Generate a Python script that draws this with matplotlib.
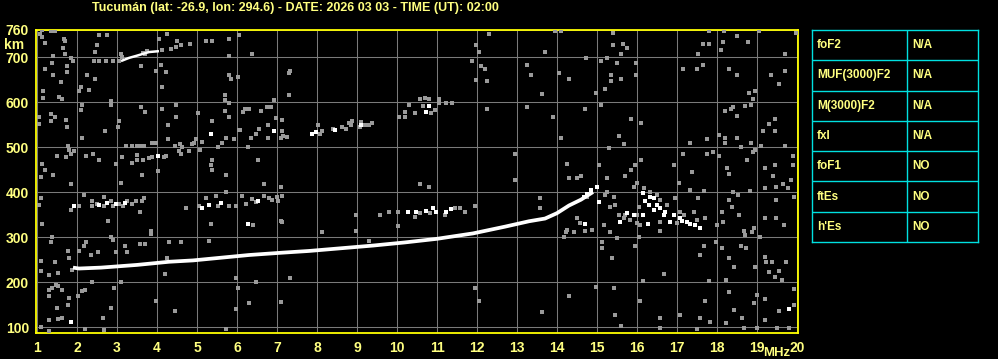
import numpy as np
import matplotlib

matplotlib.use("Agg")
import matplotlib.pyplot as plt

# ionogram: Tucuman, 2026-03-03 02:00 UT
TITLE = "Tucumán (lat: -26.9, lon: 294.6) - DATE: 2026 03 03 - TIME (UT): 02:00"

freq_ticks = list(range(1, 21))
height_ticks = [100, 200, 300, 400, 500, 600, 700, 760]

# main F trace (h'F vs frequency)
trace_f = [1.9, 2.05, 2.6, 3.5, 4.3, 4.9, 5.6, 6.3, 7.1, 7.8, 8.6, 9.4, 10.2,
           11.0, 11.9, 12.7, 13.3, 13.7, 14.0, 14.3, 14.6, 14.9]
trace_h = [232, 230, 232, 238, 245, 248, 254, 260, 265, 269, 275, 281, 288,
           296, 308, 323, 335, 341, 353, 370, 383, 400]

# faint multi-hop trace near 700 km
hop_f = [3.1, 3.3, 3.5, 3.8, 4.05]
hop_h = [691, 698, 703, 711, 713]

# bright echoes
white_pts = [
    (4.03, 480), (5.34, 530), (6.93, 536), (7.88, 528), (7.98, 533), (8.44, 538),
    (9.09, 548), (10.79, 592), (10.73, 577), (1.93, 370), (2.55, 371), (2.74, 375),
    (2.97, 373), (3.19, 376), (5.13, 365), (5.30, 371), (5.59, 375), (6.28, 328),
    (6.53, 379), (1.84, 112), (10.28, 356), (10.48, 356), (10.73, 358), (10.90, 364),
    (10.98, 356), (11.23, 356), (11.36, 362), (14.67, 390), (15.04, 377), (14.69, 328),
    (14.75, 395), (14.85, 405), (15.0, 412),
    (16.14, 397), (16.21, 379), (16.29, 371), (16.42, 360), (16.58, 364), (16.67, 349),
    (16.42, 386), (16.33, 390), (16.16, 350), (16.83, 334), (16.92, 349), (17.08, 342),
    (17.13, 336), (17.25, 334), (17.33, 328), (17.58, 319), (17.46, 327), (15.75, 353),
    (15.58, 334), (16.27, 328), (15.92, 349), (16.5, 372), (16.7, 356), (19.79, 140),
]

# scattered noise
gray_pts = [
    (1.13, 759), (1.34, 758), (1.44, 758), (1.08, 752), (1.13, 744), (1.19, 732),
    (1.68, 741), (1.69, 735), (2.74, 750), (2.54, 748), (2.49, 726), (2.45, 712),
    (1.65, 720), (1.70, 707), (1.39, 703), (1.84, 697), (1.89, 692), (2.43, 691),
    (2.55, 691), (2.73, 691), (2.89, 691), (1.38, 687), (1.74, 679), (1.74, 666),
    (1.19, 673), (1.39, 659), (1.59, 645), (2.24, 660), (2.44, 651), (2.09, 634),
    (2.05, 624), (2.29, 626), (1.14, 624), (1.15, 609), (1.55, 611), (1.63, 606),
    (2.84, 602), (2.85, 593), (2.13, 593), (2.09, 582), (1.04, 566), (1.34, 573),
    (1.34, 558), (1.44, 566), (1.73, 560), (1.05, 552), (1.74, 544), (2.13, 521),
    (2.69, 535), (3.05, 558), (3.03, 544), (3.61, 589), (3.69, 578), (4.13, 584),
    (4.48, 593), (4.48, 566), (4.28, 548), (4.28, 517), (5.03, 575), (5.38, 557),
    (4.98, 517), (5.13, 512), (5.70, 580), (5.79, 566), (5.73, 521), (5.93, 517),
    (6.05, 537), (6.08, 537), (6.19, 584), (6.30, 584), (6.14, 577), (6.59, 579),
    (6.74, 588), (6.84, 588), (7.13, 560), (6.98, 565), (6.78, 548), (6.54, 539),
    (6.47, 530), (6.34, 521), (6.78, 521), (7.13, 535), (7.14, 525), (7.24, 522),
    (7.09, 521), (6.93, 605), (7.29, 615), (7.29, 665), (6.05, 748), (5.79, 739),
    (6.38, 707), (5.80, 703), (5.80, 660), (5.84, 651), (6.03, 656), (5.69, 615),
    (5.80, 597), (5.70, 605), (5.23, 736), (5.38, 736), (4.82, 729), (4.51, 736),
    (4.59, 726), (4.34, 718), (4.24, 752), (4.47, 722), (4.04, 739), (4.13, 716),
    (4.09, 682), (4.22, 666), (3.98, 670), (4.13, 633), (3.59, 679), (3.69, 707),
    (3.09, 707), (3.13, 700), (3.05, 691), (3.65, 708), (3.75, 713),
    (1.78, 502), (1.80, 494), (1.84, 485), (1.93, 491), (1.49, 481), (1.73, 477),
    (2.23, 481), (2.40, 485), (2.54, 472), (2.98, 463), (3.13, 477), (3.22, 502),
    (3.38, 502), (3.49, 502), (3.59, 502), (3.68, 502), (3.88, 508), (3.98, 508),
    (3.38, 465), (3.51, 483), (3.49, 472), (3.65, 472), (3.80, 476), (3.88, 477),
    (4.18, 478), (4.23, 481), (4.44, 502), (4.57, 506), (4.63, 500), (4.88, 506),
    (4.93, 508), (4.80, 491), (4.55, 491), (4.59, 485), (5.08, 493), (5.38, 472),
    (5.34, 459), (5.38, 450), (5.73, 437), (5.53, 500), (5.63, 508), (6.28, 500),
    (6.53, 472), (3.63, 437), (4.03, 446), (1.13, 463), (1.19, 450), (1.09, 433),
    (1.39, 437),
    (7.32, 669), (12.29, 752), (11.98, 726), (12.04, 712), (11.88, 691), (12.09, 679),
    (12.19, 673), (11.98, 649), (12.24, 647), (13.24, 683), (13.34, 661), (13.63, 618),
    (13.24, 589), (12.24, 584), (12.94, 485), (12.94, 427), (8.03, 550), (8.13, 535),
    (8.07, 530), (8.40, 539), (8.63, 544), (8.73, 541), (8.80, 553), (8.88, 557),
    (8.84, 548), (9.09, 556), (9.08, 544), (9.19, 548), (9.29, 550), (9.38, 553),
    (10.04, 566), (10.19, 566), (10.19, 578), (10.29, 593), (10.44, 575), (10.58, 606),
    (10.69, 609), (10.79, 606), (10.65, 591), (10.84, 575), (10.94, 582), (11.04, 606),
    (11.04, 597), (11.23, 597), (11.38, 597),
    (13.94, 757), (14.09, 757), (13.69, 712), (15.39, 754), (15.39, 726), (15.64, 729),
    (15.74, 720), (15.59, 707), (14.73, 698), (15.09, 691), (15.24, 698), (15.49, 687),
    (14.04, 665), (14.29, 651), (15.34, 660), (15.34, 647), (15.59, 651), (15.19, 629),
    (14.98, 620), (15.98, 687), (15.98, 660), (15.09, 593), (14.69, 584), (13.89, 566),
    (14.09, 521), (15.84, 562), (16.09, 553), (15.54, 524), (15.67, 506), (15.29, 497),
    (14.24, 463), (14.29, 431), (14.49, 432), (14.59, 435), (15.04, 459), (15.24, 431),
    (15.69, 435), (15.84, 450), (15.94, 459), (16.09, 472), (16.93, 459), (17.14, 485),
    (17.38, 445), (17.74, 485), (17.89, 490), (18.04, 481), (18.24, 454), (18.29, 441),
    (18.59, 499), (18.74, 471), (18.89, 490), (18.94, 494), (19.10, 503), (19.69, 503),
    (19.89, 481), (19.89, 459), (19.44, 461), (19.19, 454), (19.39, 436), (19.84, 427),
    (17.74, 517), (17.33, 508), (18.04, 526), (18.19, 521), (18.19, 508), (18.49, 521),
    (18.84, 508), (19.14, 535), (19.29, 551), (19.44, 535), (19.44, 562), (18.19, 579),
    (18.34, 584), (18.39, 588), (18.49, 568), (18.69, 591), (18.84, 593), (18.79, 620),
    (18.89, 606), (18.94, 624), (18.29, 673), (18.49, 660), (19.34, 660), (19.54, 640),
    (19.69, 669), (19.69, 707), (17.14, 673), (17.49, 673), (17.64, 682), (17.52, 707),
    (17.64, 729), (17.79, 729), (18.09, 716), (18.14, 734), (18.17, 758), (17.79, 758),
    (18.49, 747), (18.77, 734), (19.04, 758), (19.98, 754),
    (2.05, 368), (2.38, 380), (2.38, 370), (2.51, 373), (2.68, 370), (2.84, 379),
    (2.89, 370), (3.05, 373), (3.15, 370), (3.26, 380), (3.38, 373), (3.47, 380),
    (3.62, 379), (3.57, 356), (3.68, 386), (4.72, 365), (5.05, 370), (5.22, 387),
    (5.47, 392), (5.53, 370), (5.73, 401), (5.80, 370), (5.97, 370), (6.12, 392),
    (6.23, 373), (6.37, 385), (6.47, 377), (6.68, 392), (6.80, 386), (6.88, 382),
    (7.03, 380), (7.13, 392), (7.13, 334), (6.40, 327), (1.05, 371), (1.09, 386),
    (1.84, 359), (1.84, 417), (2.18, 393), (2.68, 390), (3.09, 419), (2.78, 336),
    (3.85, 313), (3.85, 306), (2.86, 299), (2.90, 293), (1.13, 328), (1.38, 301),
    (1.34, 288), (2.23, 290), (2.18, 279), (1.78, 268), (2.05, 269), (2.53, 266),
    (2.34, 260), (2.97, 266), (3.20, 279), (3.26, 266), (3.57, 284), (3.69, 284),
    (4.30, 288), (4.59, 288), (5.30, 291), (4.24, 254), (4.20, 217), (5.34, 328),
    (6.68, 417), (7.09, 412), (7.09, 336), (7.01, 390), (1.09, 225), (1.30, 216),
    (1.53, 219), (1.09, 247), (1.44, 245), (1.80, 253), (1.88, 227), (1.47, 194),
    (1.30, 183), (1.37, 186), (1.53, 192), (1.62, 183), (1.30, 168), (1.80, 164),
    (2.03, 168), (2.13, 179), (2.20, 182), (2.38, 199), (1.51, 143), (1.78, 148),
    (1.30, 116), (1.53, 118), (1.63, 121), (1.09, 99), (1.30, 91), (2.20, 95),
    (2.68, 94), (2.64, 121), (2.84, 143), (2.93, 186), (3.09, 201), (3.98, 158),
    (4.44, 136), (6.03, 186), (5.97, 208), (6.30, 153), (5.97, 140), (5.73, 96),
    (6.48, 199), (7.09, 155),
    (9.79, 356), (10.03, 355), (10.44, 345), (10.58, 353), (10.82, 353), (11.19, 350),
    (11.44, 365), (11.57, 364), (11.69, 356), (11.94, 368), (9.58, 350), (8.98, 350),
    (8.13, 312), (8.98, 313), (9.29, 292), (10.03, 325), (10.58, 417), (10.79, 412),
    (13.58, 386), (13.58, 364), (7.32, 208), (11.94, 186), (12.04, 158), (13.63, 134),
    (15.46, 371), (15.71, 349), (15.83, 338), (16.00, 350), (16.04, 367), (16.17, 408),
    (16.32, 401), (16.50, 393), (16.58, 382), (16.75, 371), (16.96, 386), (17.08, 356),
    (17.17, 349), (17.42, 356), (17.50, 338), (17.71, 343), (17.00, 331), (16.58, 334),
    (16.08, 327), (16.00, 331), (15.67, 342), (15.54, 349), (15.33, 367), (15.21, 393),
    (15.25, 401), (14.75, 390), (14.50, 342), (14.25, 316), (14.17, 301), (14.71, 313),
    (14.57, 331), (15.33, 312), (15.50, 297), (15.13, 290), (15.13, 275), (16.04, 299),
    (16.58, 313), (15.96, 281), (15.38, 253), (14.98, 188), (14.29, 168), (15.43, 186),
    (16.08, 157), (15.46, 127), (15.60, 103), (16.58, 120), (16.58, 97), (17.08, 126),
    (17.58, 120), (17.69, 158), (17.83, 112), (17.50, 96), (18.23, 108), (18.42, 138),
    (18.63, 120), (18.67, 97), (19.00, 97), (19.21, 116), (19.50, 97), (19.54, 136),
    (19.79, 97), (19.93, 148), (19.93, 185), (19.00, 171), (19.19, 162), (18.92, 153),
    (18.29, 177), (18.23, 205), (17.79, 202), (16.68, 217), (16.14, 202), (17.58, 260),
    (17.68, 279), (17.98, 288), (18.13, 275), (18.29, 253), (18.43, 234), (18.61, 279),
    (18.73, 275), (18.94, 234), (19.19, 256), (19.23, 245), (19.38, 244), (19.29, 222),
    (19.44, 212), (19.54, 225), (19.73, 244), (19.63, 205), (19.08, 301), (18.88, 312),
    (18.71, 305), (18.92, 321), (18.68, 313), (18.54, 349), (18.37, 367), (18.29, 382),
    (18.52, 393), (18.39, 401), (18.83, 402), (19.19, 408), (19.48, 412), (19.65, 417),
    (19.77, 408), (19.93, 390), (19.48, 382), (19.21, 343), (19.48, 343), (19.67, 327),
    (18.13, 356), (18.15, 334), (18.00, 327), (17.53, 386), (17.67, 402), (17.33, 405),
    (17.04, 419), (15.92, 412), (15.43, 390), (16.00, 419), (15.17, 327), (14.88, 316),
    (14.43, 311), (14.23, 312),
]

table_labels = ["foF2", "MUF(3000)F2", "M(3000)F2", "fxI", "foF1", "ftEs", "h'Es"]
table_values = ["N/A", "N/A", "N/A", "N/A", "NO", "NO", "NO"]

YELLOW = "#ffff80"
BORDER = "#ffff00"
CYAN = "#00e0e0"
GRID = "#7a7a7a"
FONT = ["Liberation Sans", "DejaVu Sans"]

W, H = 998, 359
fig = plt.figure(figsize=(W / 100, H / 100), dpi=100, facecolor="black")
ax = fig.add_axes([36 / W, 1 - 333 / H, 762 / W, 303 / H], facecolor="black")

ax.set_xlim(0.975, 20.025)
ax.set_ylim(86.7, 760)

ax.set_xticks(freq_ticks)
ax.set_yticks(height_ticks)
ax.set_xticklabels([str(v) for v in freq_ticks])
ax.set_yticklabels([str(v) for v in height_ticks])
ax.tick_params(length=0, colors=YELLOW, labelsize=10, pad=5)
ax.tick_params(axis="x", pad=6)
for lab in ax.get_xticklabels() + ax.get_yticklabels():
    lab.set_fontweight("bold")
    lab.set_family(FONT)
ax.grid(True, color=GRID, lw=0.75)
for sp in ax.spines.values():
    sp.set_color(BORDER)
    sp.set_linewidth(1.3)

g = np.array(gray_pts)
ax.scatter(g[:, 0], g[:, 1], marker="s", s=5.5, color="#9a9a9a", linewidths=0,
           zorder=3)
ax.plot(hop_f, hop_h, color="white", lw=1.8, solid_capstyle="butt", zorder=4)
ax.plot(trace_f, trace_h, color="white", lw=2.7, solid_capstyle="butt", zorder=4)
w = np.array(white_pts)
ax.scatter(w[:, 0], w[:, 1], marker="s", s=5.5, color="white", linewidths=0,
           zorder=4)

fig.text(14 / W, 1 - 45 / H, "km", color=YELLOW, fontsize=10, fontweight="bold",
         family=FONT, ha="center", va="center")
fig.text(777 / W, 1 - 353 / H, "MHz", color=YELLOW, fontsize=9.5, fontweight="bold",
         family=FONT, ha="center", va="center")

fig.text(295 / W, 1 - 8 / H, TITLE, color=YELLOW, fontsize=9, fontweight="bold",
         family=FONT, ha="center", va="center")

# parameter table
tax = fig.add_axes([812 / W, 1 - 242 / H, 166 / W, 212 / H], facecolor="black")
tax.set_xlim(0, 166)
tax.set_ylim(len(table_labels), 0)
tax.set_xticks([])
tax.set_yticks([])
for sp in tax.spines.values():
    sp.set_color(CYAN)
    sp.set_linewidth(1.0)
tax.axvline(95, color=CYAN, lw=1.0)
for i in range(1, len(table_labels)):
    tax.axhline(i, color=CYAN, lw=1.0)
for i, (lab, val) in enumerate(zip(table_labels, table_values)):
    tax.text(5, i + 0.5, lab, color=YELLOW, fontsize=8.5, fontweight="bold",
             family=FONT, ha="left", va="center")
    tax.text(100, i + 0.5, val, color=YELLOW, fontsize=8.5, fontweight="bold",
             family=FONT, ha="left", va="center")

fig.savefig("out.png", dpi=100, facecolor="black")
